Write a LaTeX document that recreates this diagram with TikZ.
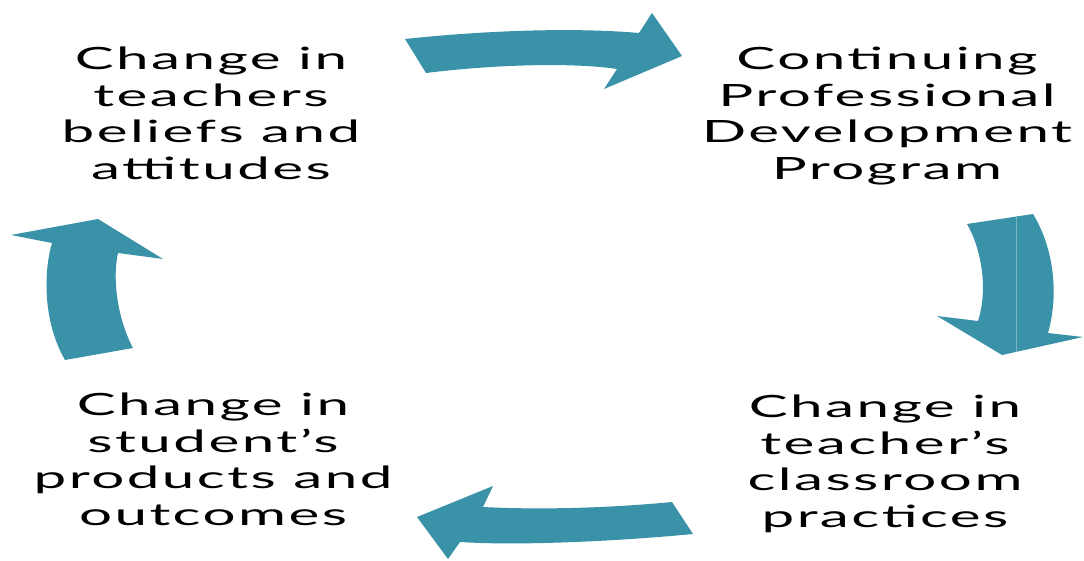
\documentclass[tikz,border=0pt]{standalone}
\usepackage{fontspec}
\newfontfamily\cyclefont[FakeStretch=1.9,LetterSpace=8]{Lato}
\definecolor{cycleteal}{RGB}{57,146,168}
\definecolor{seam}{RGB}{120,180,196}
\tikzset{
  cyclearrow/.style={fill=cycleteal, draw=none},
  stage/.style={anchor=north, inner sep=0pt, align=center, text=black,
    font=\cyclefont\fontsize{30.7}{36.5}\selectfont}
}
\begin{document}
\begin{tikzpicture}[x=1pt,y=-1pt]
\useasboundingbox (0,0) rectangle (1084,561);

% stage labels
\node[stage] (beliefs) at (211,47) {Change in\\teachers\\beliefs and\\attitudes};
\node[stage] (cpd) at (887,47) {Continuing\\Professional\\Development\\Program};
\node[stage] (practice) at (885,395) {Change in\\teacher’s\\classroom\\practices};
\node[stage] (outcomes) at (213,393) {Change in\\student’s\\products and\\outcomes};

% top arrow: beliefs -> programme
\fill[cyclearrow] (405,39) .. controls (480,31) and (570,27) .. (639,33)
  -- (652,13) -- (682,56) -- (604,89) -- (617,69)
  .. controls (570,62) and (490,65) .. (426,73) -- cycle;

% right arrow: programme -> practices
\fill[cyclearrow] (967,224) -- (1033,214)
  .. controls (1052,245) and (1060,290) .. (1048,333)
  -- (1083,337) -- (1002,355) -- (937,316) -- (978,321)
  .. controls (988,290) and (982,250) .. (967,224) -- cycle;
\draw[seam, line width=0.6pt] (1016,216) -- (1016,352);

% bottom arrow: practices -> outcomes
\fill[cyclearrow] (672,502) -- (693,534)
  .. controls (620,541) and (520,546) .. (460,542)
  -- (448,559) -- (417,517) -- (493,486) -- (483,507)
  .. controls (540,510) and (610,508) .. (672,502) -- cycle;

% left arrow: outcomes -> beliefs
\fill[cyclearrow] (65,360) -- (133,348)
  .. controls (118,320) and (112,280) .. (118,253)
  -- (163,259) -- (98,219) -- (11,235) -- (52,243)
  .. controls (44,270) and (42,320) .. (65,360) -- cycle;
\end{tikzpicture}
\end{document}
